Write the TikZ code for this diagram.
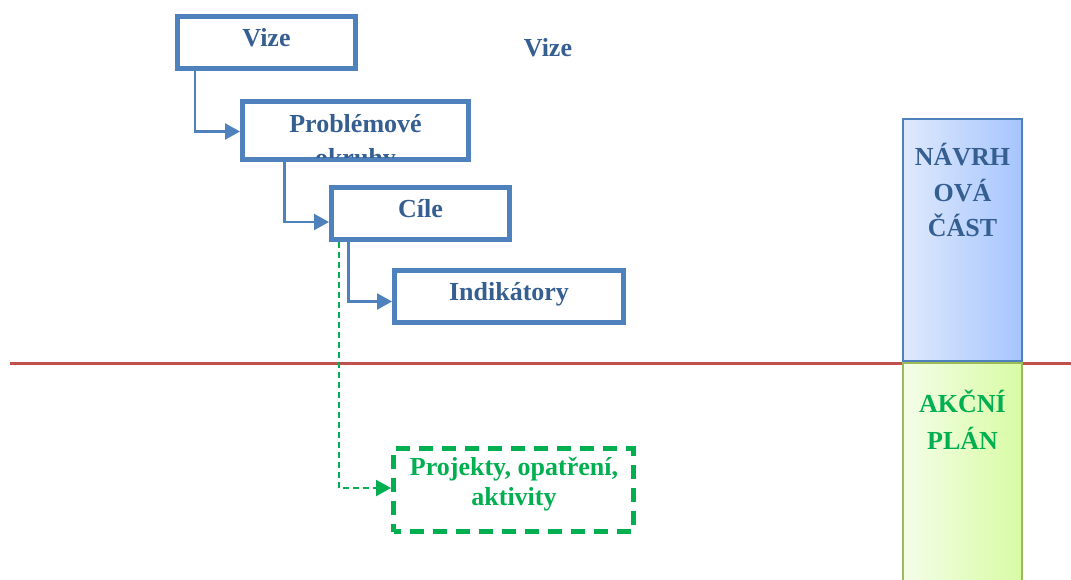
\documentclass[tikz,border=0pt]{standalone}
\usepackage{fontspec}
\setmainfont{Liberation Serif}
\usetikzlibrary{arrows.meta,calc}
\definecolor{bxblue}{HTML}{4F81BD}
\definecolor{txblue}{HTML}{365F91}
\definecolor{grn}{HTML}{00B050}
\definecolor{redln}{HTML}{C0504D}
\definecolor{akgreen}{HTML}{9BBB59}
\definecolor{navL}{HTML}{DFE9FC}
\definecolor{navR}{HTML}{A6C5FE}
\definecolor{akL}{HTML}{F4FDE8}
\definecolor{akR}{HTML}{D8FCA4}
\begin{document}
\begin{tikzpicture}[x=1pt,y=-1pt,
  every node/.style={inner sep=0pt},
  lbl/.style={font=\bfseries\fontsize{26}{30}\selectfont},
  bluebox/.style={draw=bxblue, line width=5pt, fill=white, text=txblue, lbl, text height=20pt, text depth=13pt},
  link/.style={draw=bxblue, line width=2.2pt, -{Triangle[length=15pt,width=16pt]}},
  greenlink/.style={draw=grn, line width=2pt, dash pattern=on 6pt off 4pt, -{Triangle[length=15pt,width=16pt]}},
  sidebox/.style={line width=2.2pt, minimum width=119pt}
]
\useasboundingbox[fill=white] (0,0) rectangle (1071,579);
% dividing line
\coordinate (lineL) at (10,363);
\coordinate (lineR) at (1071,363);
\draw[redln, line width=3pt] (lineL) -- (lineR);
% side boxes
\node[sidebox, draw=bxblue, left color=navL, right color=navR, minimum height=242pt] (navrh) at (962.5,240) {};
\node[sidebox, draw=akgreen, left color=akL, right color=akR, minimum height=230pt] (akce) at (962.5,478) {};
\node[lbl, text=txblue, align=center, anchor=north, font=\bfseries\fontsize{26}{35.5}\selectfont] (navrhT) at (962.5,143) {NÁVRH\\OVÁ\\ČÁST};
\node[lbl, text=grn, align=center, anchor=north, font=\bfseries\fontsize{26}{37}\selectfont] (akceT) at (962.5,390) {AKČNÍ\\PLÁN};
% blue boxes
\node[bluebox, minimum width=178pt, minimum height=52pt] (vize) at (266.5,42.5) {Vize};
\node[bluebox, minimum width=226pt, minimum height=58pt] (prob) at (355.5,130.5) {};
\begin{scope}
\clip ([shift={(5pt,-5pt)}]prob.north west) rectangle ([shift={(-5pt,5pt)}]prob.south east);
\node[lbl, text=txblue, anchor=base] (probA) at (355.5,132) {Problémové};
\node[lbl, text=txblue, anchor=base] (probB) at (355.5,166) {okruhy};
\end{scope}
\node[bluebox, minimum width=178pt, minimum height=52pt] (cile) at (420.5,213.5) {Cíle};
\node[bluebox, minimum width=229pt, minimum height=52pt] (indik) at (509,296.5) {Indikátory};
\node[lbl, text=txblue, anchor=base] (vizeL) at (548,56) {Vize};
% green dashed box
\node[draw=grn, line width=5pt, dash pattern=on 14.07pt off 9pt, dash phase=7pt, minimum width=240pt, minimum height=83pt] (proj) at (513.5,490) {};
\node[lbl, text=grn, align=center, anchor=north] (projT) at (514,457) {Projekty, opatření,\\aktivity};
% connectors
\draw[link] ($(vize.south west)+(20,0)$) |- ([yshift=-1pt]prob.west);
\draw[link] ($(prob.south west)+(44.5,0)$) |- ([yshift=-8.5pt]cile.west);
\draw[link] ($(cile.south west)+(19.5,0)$) |- ([yshift=-5pt]indik.west);
\draw[greenlink] ($(cile.south west)+(9.5,0)$) |- ([yshift=2pt]proj.west);
\end{tikzpicture}
\end{document}
